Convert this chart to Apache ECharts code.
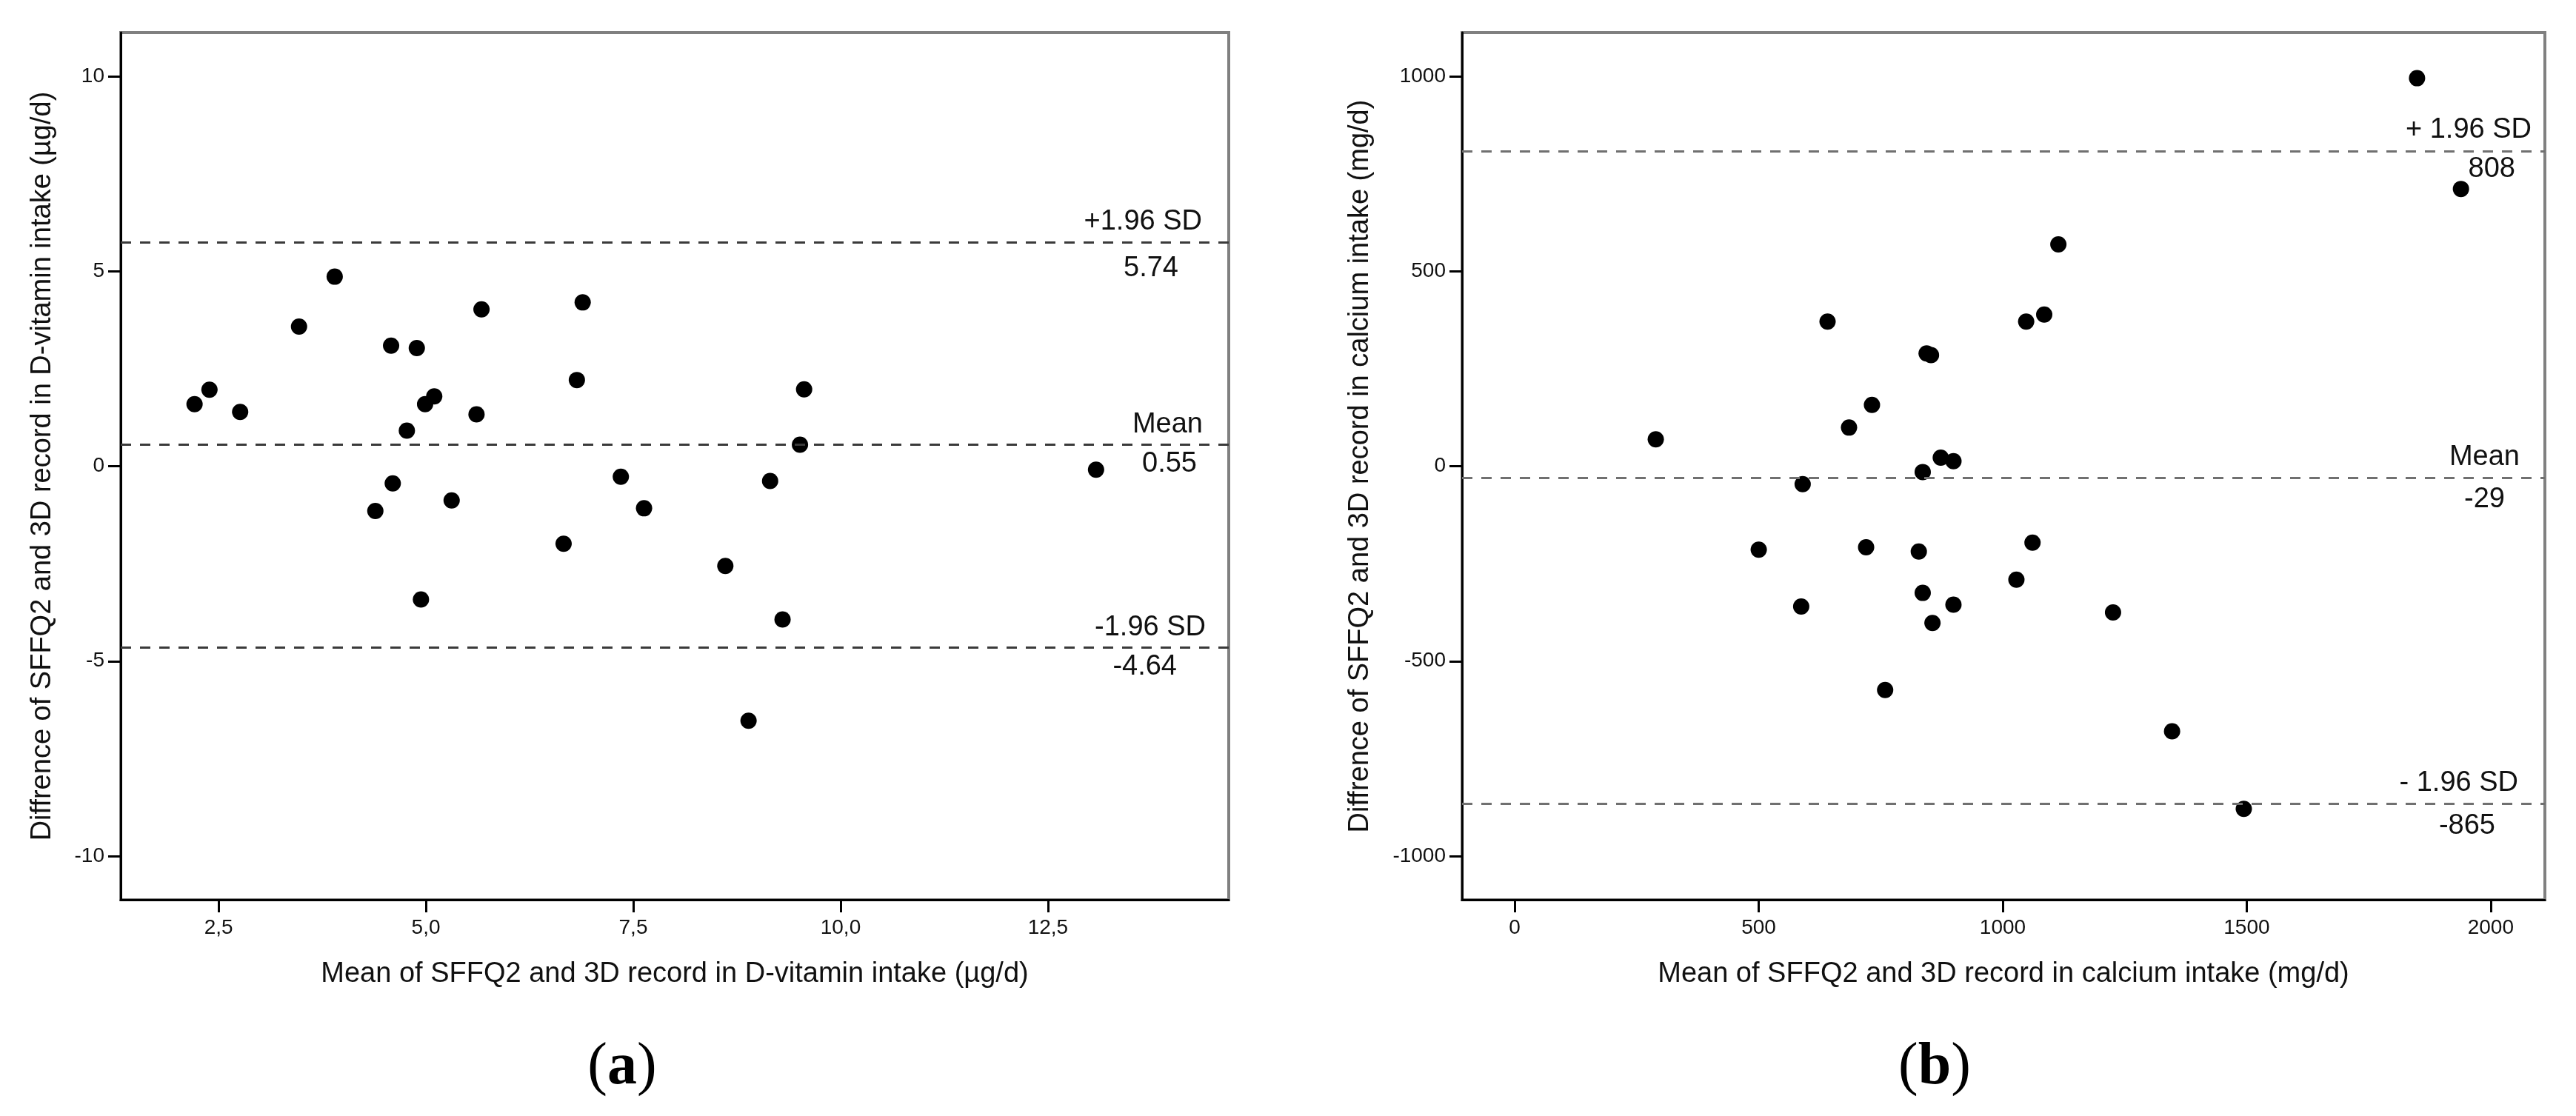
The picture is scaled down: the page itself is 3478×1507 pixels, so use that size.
<!DOCTYPE html>
<html>
<head>
<meta charset="utf-8">
<script src="https://cdn.jsdelivr.net/npm/echarts@6/dist/echarts.min.js"></script>
<style>
html,body{margin:0;padding:0;background:#fff;}
#chart{width:3478px;height:1507px;}
</style>
</head>
<body>
<div id="chart"></div>
<script>
// ---- Panel (a): D-vitamin ----
const vitMean = [2.21,2.39,2.76,3.47,3.90,4.58,4.89,5.67,6.89,6.82,5.10,4.99,5.61,4.77,9.56,9.51,13.08,4.60,4.39,5.31,7.35,7.63,9.15,6.66,4.94,8.61,9.30,8.89];
const vitDiff = [1.59,1.96,1.39,3.58,4.86,3.09,3.03,4.02,4.20,2.21,1.79,1.59,1.33,0.91,1.97,0.55,-0.09,-0.44,-1.15,-0.88,-0.27,-1.08,-0.38,-1.99,-3.42,-2.56,-3.93,-6.53];
const vitRefNames = ['+1.96 SD','Mean','-1.96 SD'];
const vitRefValues = [5.74, 0.55, -4.64];
const vitXTicks = [2.5, 5, 7.5, 10, 12.5];
const vitYTicks = [-10, -5, 0, 5, 10];

// ---- Panel (b): calcium ----
const caMean = [1849,1939,1114,1085,1048,641,844,853,732,685,289,873,899,836,590,500,720,828,1061,1028,836,899,587,856,1226,759,1347,1494];
const caDiff = [995,711,569,389,371,371,289,285,157,99,69,22,13,-15,-46,-214,-208,-219,-196,-291,-325,-355,-360,-402,-375,-574,-680,-879];
const caRefNames = ['+ 1.96 SD','Mean','- 1.96 SD'];
const caRefValues = [808, -29, -865];
const caXTicks = [0, 500, 1000, 1500, 2000];
const caYTicks = [-1000, -500, 0, 500, 1000];

const titles = {
  ax: 'Mean of SFFQ2 and 3D record in D-vitamin intake (µg/d)',
  ay: 'Diffrence of SFFQ2 and 3D record in D-vitamin intake (µg/d)',
  bx: 'Mean of SFFQ2 and 3D record in calcium intake (mg/d)',
  by: 'Diffrence of SFFQ2 and 3D record in calcium intake (mg/d)'
};

const FONT = '"Liberation Sans", Arial, sans-serif';
const TXT = '#111';

const commaFmt = v => v.toFixed(1).replace('.', ',');
const plainFmt = v => String(v);

function axisBase(ticks, fmt, margin) {
  return {
    axisLine: {show: true, onZero: false, lineStyle: {color: '#000', width: 3}},
    axisTick: {show: true, inside: false, length: 17, lineStyle: {color: '#000', width: 3}, customValues: ticks},
    axisLabel: {show: true, customValues: ticks, fontFamily: FONT, fontSize: 28, color: TXT, formatter: fmt, margin: margin},
    splitLine: {show: false},
    nameTextStyle: {fontFamily: FONT, fontSize: 38, color: TXT}
  };
}

function refLines(names, values, color, nameDist, valDist) {
  const data = [];
  values.forEach((v, i) => {
    data.push({
      yAxis: v,
      label: {show: true, position: 'insideEndTop', formatter: names[i], distance: nameDist[i],
              fontFamily: FONT, fontSize: 38, color: TXT}
    });
    data.push({
      yAxis: v,
      label: {show: true, position: 'insideEndBottom', formatter: String(v), distance: valDist[i],
              fontFamily: FONT, fontSize: 38, color: TXT}
    });
  });
  return {
    silent: true,
    symbol: ['none', 'none'],
    animation: false,
    lineStyle: {color: color, width: 3, type: [14, 12], opacity: 1},
    emphasis: {disabled: true},
    data: data
  };
}

const chart = echarts.init(document.getElementById('chart'), null, {renderer: 'canvas'});
chart.setOption({
  animation: false,
  backgroundColor: '#fff',
  grid: [
    {left: 163, top: 44, right: 1819, bottom: 292, show: true, borderColor: '#808080', borderWidth: 4, backgroundColor: '#fff'},
    {left: 1974, top: 44, right: 42, bottom: 292, show: true, borderColor: '#808080', borderWidth: 4, backgroundColor: '#fff'}
  ],
  xAxis: [
    Object.assign(axisBase(vitXTicks, commaFmt, 24), {
      type: 'value', gridIndex: 0, min: 1.32, max: 14.68,
      name: titles.ax, nameLocation: 'middle', nameGap: 82
    }),
    Object.assign(axisBase(caXTicks, plainFmt, 24), {
      type: 'value', gridIndex: 1, min: -108, max: 2111,
      name: titles.bx, nameLocation: 'middle', nameGap: 82
    })
  ],
  yAxis: [
    Object.assign(axisBase(vitYTicks, plainFmt, 22), {
      type: 'value', gridIndex: 0, min: -11.12, max: 11.12,
      name: titles.ay, nameLocation: 'middle', nameGap: 86
    }),
    Object.assign(axisBase(caYTicks, plainFmt, 22), {
      type: 'value', gridIndex: 1, min: -1112, max: 1112,
      name: titles.by, nameLocation: 'middle', nameGap: 118
    })
  ],
  series: [
    {
      type: 'scatter', xAxisIndex: 0, yAxisIndex: 0,
      data: vitMean.map((x, i) => [x, vitDiff[i]]),
      symbol: 'circle', symbolSize: 22,
      itemStyle: {color: '#000', opacity: 1},
      emphasis: {disabled: true},
      markLine: refLines(vitRefNames, vitRefValues, '#3a3a3a',
        [[36, 9], [35, 8], [31, 7]], [[68, 16], [43, 7], [70, 8]])
    },
    {
      type: 'scatter', xAxisIndex: 1, yAxisIndex: 1,
      data: caMean.map((x, i) => [x, caDiff[i]]),
      symbol: 'circle', symbolSize: 22,
      itemStyle: {color: '#000', opacity: 1},
      emphasis: {disabled: true},
      markLine: refLines(caRefNames, caRefValues, '#707070',
        [[18, 10], [34, 8], [36, 8]], [[40, 5], [54, 11], [67, 12]])
    }
  ],
  graphic: [
    {type: 'text', x: 840, y: 1442, style: {
      text: '{p|(}{b|a}{p|)}', align: 'center', verticalAlign: 'middle',
      rich: {p: {fontFamily: '"Liberation Serif", serif', fontSize: 80, fill: '#000'},
             b: {fontFamily: '"Liberation Serif", serif', fontSize: 80, fontWeight: 'bold', fill: '#000'}}
    }},
    {type: 'text', x: 2612, y: 1442, style: {
      text: '{p|(}{b|b}{p|)}', align: 'center', verticalAlign: 'middle',
      rich: {p: {fontFamily: '"Liberation Serif", serif', fontSize: 80, fill: '#000'},
             b: {fontFamily: '"Liberation Serif", serif', fontSize: 80, fontWeight: 'bold', fill: '#000'}}
    }}
  ]
});
</script>
</body>
</html>
